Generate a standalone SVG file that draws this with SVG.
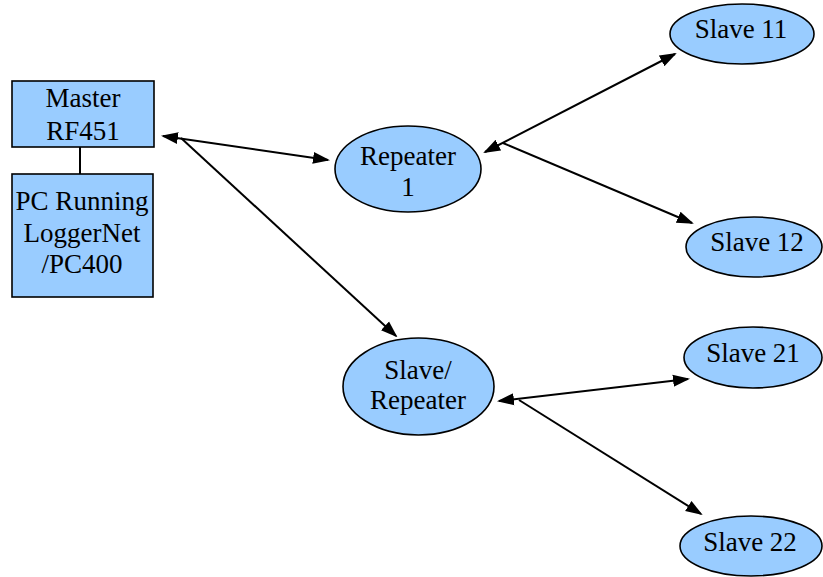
<svg xmlns="http://www.w3.org/2000/svg" width="823" height="577" viewBox="0 0 823 577">
<style>
.n{fill:#99CCFF;stroke:#000;stroke-width:1.6}
.t{font-family:"Liberation Serif","Times New Roman",serif;font-size:27px;fill:#000;text-anchor:middle}
.c{stroke:#000;stroke-width:2;fill:none}
</style>
<defs>
<marker id="ah" markerUnits="userSpaceOnUse" markerWidth="17" markerHeight="13" refX="15" refY="6" orient="auto-start-reverse" viewBox="0 0 17 12">
<path d="M0,0 L17,6 L0,12 z" fill="#000"/>
</marker>
</defs>
<g id="connectors">
<line class="c" x1="80" y1="147" x2="80" y2="174"/>
<line class="c" x1="163" y1="136" x2="328" y2="160" marker-start="url(#ah)" marker-end="url(#ah)"/>
<line class="c" x1="181" y1="138" x2="396" y2="336" marker-end="url(#ah)"/>
<line class="c" x1="485" y1="152" x2="675" y2="54" marker-start="url(#ah)" marker-end="url(#ah)"/>
<line class="c" x1="503" y1="143" x2="692" y2="223" marker-end="url(#ah)"/>
<line class="c" x1="499" y1="401" x2="688" y2="379" marker-start="url(#ah)" marker-end="url(#ah)"/>
<line class="c" x1="519" y1="400" x2="701" y2="514" marker-end="url(#ah)"/>
</g>
<g id="master">
<rect class="n" x="12" y="81" width="142" height="66"/>
<text class="t" x="83" y="107">Master</text>
<text class="t" x="83" y="140">RF451</text>
</g>
<g id="pc">
<rect class="n" x="12" y="174" width="141" height="123"/>
<text class="t" x="82" y="210">PC Running</text>
<text class="t" x="82" y="242">LoggerNet</text>
<text class="t" x="82" y="273">/PC400</text>
</g>
<g id="repeater1">
<ellipse class="n" cx="408" cy="169" rx="73" ry="43"/>
<text class="t" x="408" y="165">Repeater</text>
<text class="t" x="408" y="196">1</text>
</g>
<g id="slave11">
<ellipse class="n" cx="742" cy="34" rx="72" ry="30"/>
<text class="t" x="741" y="38">Slave 11</text>
</g>
<g id="slave12">
<ellipse class="n" cx="754" cy="247" rx="68" ry="30"/>
<text class="t" x="757" y="251">Slave 12</text>
</g>
<g id="slaverepeater">
<ellipse class="n" cx="418.5" cy="386.5" rx="75.5" ry="48.5"/>
<text class="t" x="418" y="379">Slave/</text>
<text class="t" x="418" y="409">Repeater</text>
</g>
<g id="slave21">
<ellipse class="n" cx="753" cy="357.5" rx="69" ry="30.5"/>
<text class="t" x="753" y="362">Slave 21</text>
</g>
<g id="slave22">
<ellipse class="n" cx="751" cy="546" rx="71" ry="30"/>
<text class="t" x="750" y="551">Slave 22</text>
</g>
</svg>
